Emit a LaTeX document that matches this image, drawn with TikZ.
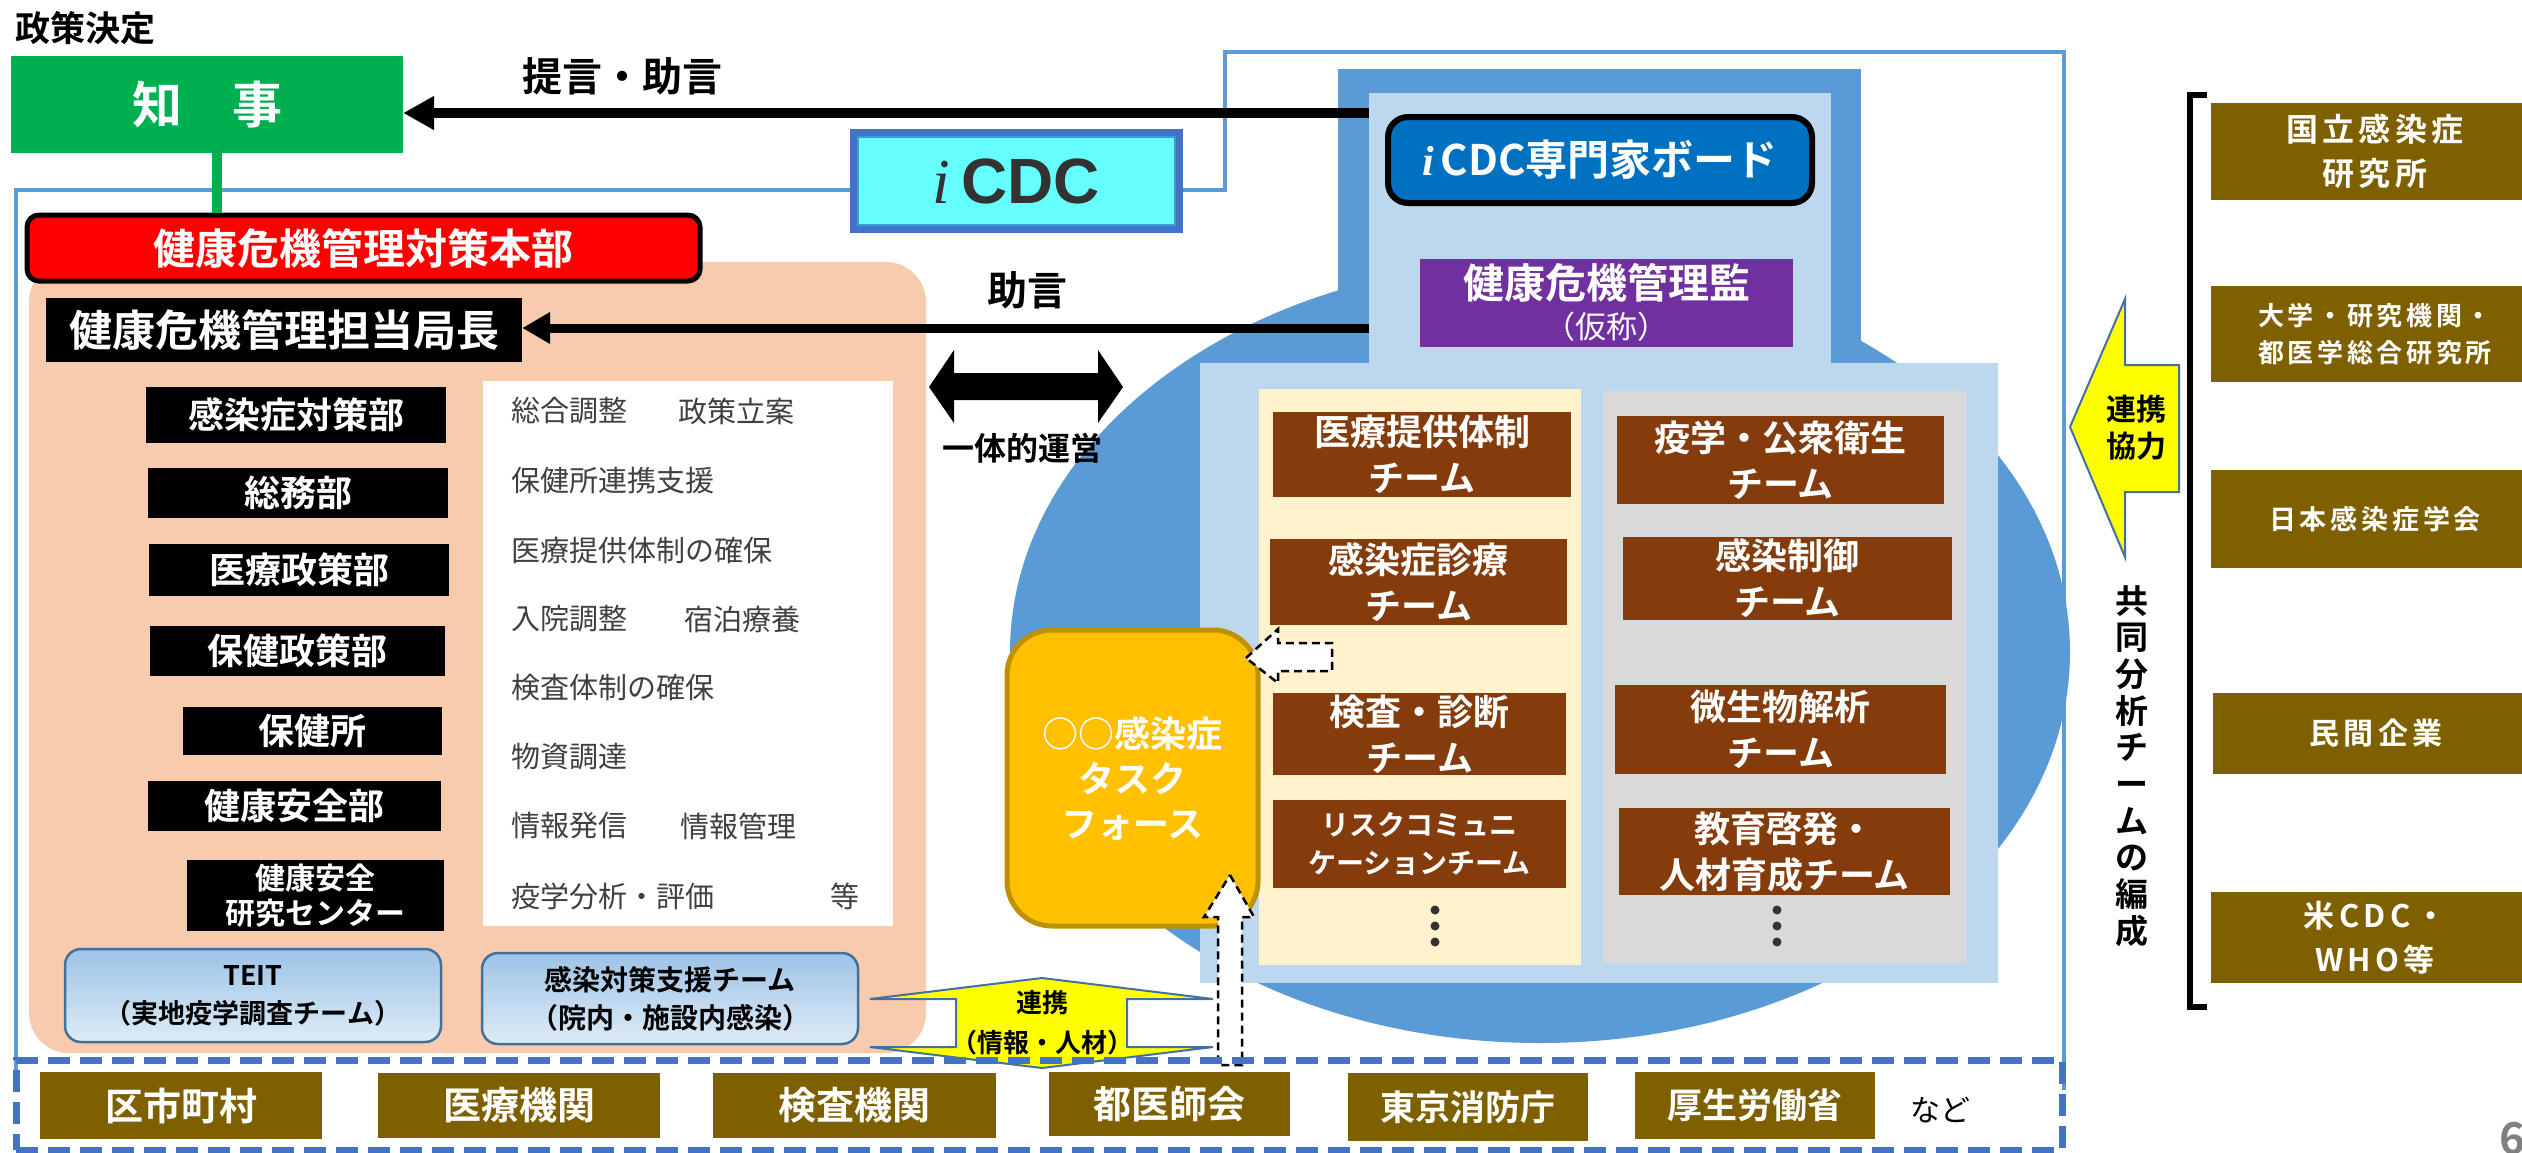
\documentclass[tikz,border=0pt]{standalone}
\usepackage{fontspec}
\setmainfont{Noto Sans CJK JP}[BoldFont={Noto Sans CJK JP Bold}]
\newfontfamily\serifit{Liberation Serif}
\newfontfamily\arialf{Liberation Sans}
\usetikzlibrary{arrows.meta,calc}
\definecolor{cGreen}{HTML}{00B050}
\definecolor{cRed}{HTML}{FF0000}
\definecolor{cPeach}{HTML}{F8CBAD}
\definecolor{cFrame}{HTML}{5B9BD5}
\definecolor{cDash}{HTML}{4472C4}
\definecolor{cCyan}{HTML}{66FFFF}
\definecolor{cBoard}{HTML}{5B9BD5}
\definecolor{cLight}{HTML}{BDD7EE}
\definecolor{cNavy}{HTML}{0070C0}
\definecolor{cPurple}{HTML}{7030A0}
\definecolor{cCream}{HTML}{FFF2CC}
\definecolor{cGrey}{HTML}{D9D9D9}
\definecolor{cBrown}{HTML}{843C0C}
\definecolor{cOlive}{HTML}{7F6000}
\definecolor{cOrange}{HTML}{FFC000}
\definecolor{cOrangeD}{HTML}{BF9000}
\definecolor{cYellow}{HTML}{FFFF00}
\definecolor{cOutl}{HTML}{41719C}
\definecolor{cTxt}{HTML}{404040}
\definecolor{cTop}{HTML}{9DC3E6}
\definecolor{cBot}{HTML}{DEEBF7}
\definecolor{cInner}{HTML}{3C9BD0}
\definecolor{cIcdcTxt}{HTML}{333333}
\newcommand\fsz[2]{\fontsize{#1}{#2}\selectfont}
\newcommand\wide{\addfontfeatures{LetterSpace=14}}
\begin{document}
\begin{tikzpicture}[x=1pt,y=-1pt,
 every node/.style={inner sep=0pt,align=center},
 blackbox/.style={fill=black,text=white,font=\bfseries\fsz{36}{38}},
 teambox/.style={fill=cBrown,text=white,font=\bfseries\fsz{36}{46}},
 orgbox/.style={fill=cOlive,text=white,font=\bfseries\fsz{38}{40}},
 extbox/.style={fill=cOlive,text=white,font=\bfseries\fsz{31}{44}\wide},
 listtxt/.style={anchor=west,text=cTxt,font=\fsz{29}{32}},
 bluebox/.style={rounded corners=16pt,draw=cOutl,line width=2.5pt,top color=cTop,bottom color=cBot,text=black,font=\bfseries\fsz{27}{38}},
 lbl/.style={text=black,font=\bfseries\fsz{40}{44}},
 bigarrow/.style={line width=10pt,-{Triangle[length=31pt,width=32pt]}},
 dasharrow/.style={fill=white,draw=black,line width=2.5pt,dash pattern=on 8pt off 5pt},
 yarrow/.style={fill=cYellow,draw=cOutl,line width=2pt},
 dotc/.style={fill=black!80}
]
\useasboundingbox (0,0) rectangle (2522,1152);
\fill[white] (0,0) rectangle (2522,1152);

% bottom dashed box (fill only)
\fill[white] (16,1060) rectangle (2062,1150);

% peach area
\fill[cPeach, rounded corners=40pt] (29,262) rectangle (926,1053);

% outer frame
\draw[cFrame, line width=4pt] (16,1090) -- (16,190) -- (1225,190) -- (1225,52) -- (2064,52) -- (2064,1090);

% board background
\fill[cBoard] (1540,652) ellipse [x radius=530, y radius=391];
\fill[cBoard] (1338,69) rectangle (1861,400);
\fill[cLight] (1369,93) rectangle (1831,400);
\fill[cLight] (1200,363) rectangle (1998,983);
\fill[cCream] (1259,389) rectangle (1581,965);
\fill[cGrey] (1603,391) rectangle (1966,963);

% top-left
\node[anchor=west, text=black, font=\bfseries\fsz{35}{36}] (seisaku) at (15,28) {政策決定};
\node[fill=cGreen, text=white, font=\bfseries\fsz{50}{54}, minimum width=392pt, minimum height=97pt] (zhiji) at (207,104.5) {知　事};
\node[lbl] (teigen) at (622,76) {提言・助言};
\node[fill=cRed, draw=black, line width=5pt, rounded corners=12pt, text=white, font=\bfseries\fsz{42}{46}, minimum width=673pt, minimum height=66pt] (honbu) at (363.5,248) {健康危機管理対策本部};
\draw[cGreen, line width=10pt] ([xshift=10pt]zhiji.south) -- ([xshift=10pt]zhiji.south |- honbu.north);
\node[fill=black, text=white, font=\bfseries\fsz{43}{46}, minimum width=476pt, minimum height=64pt] (kyokucho) at (284,330) {健康危機管理担当局長};
\node[lbl] (jogen) at (1027,290) {助言};

% iCDC box
\node[fill=cCyan, draw=cDash, line width=8pt, minimum width=325pt, minimum height=96pt, text=cIcdcTxt, font=\fsz{64}{66}] (icdc) at (1016.5,181) {{\serifit\itshape i}\,{\arialf\bfseries CDC}};
\draw[cInner, line width=2pt] ([shift={(8,8)}]icdc.north west) rectangle ([shift={(-8,-8)}]icdc.south east);

% department boxes
\node[blackbox, minimum width=300pt, minimum height=56pt] (d1) at (296,415) {感染症対策部};
\node[blackbox, minimum width=300pt, minimum height=50pt] (d2) at (298,493) {総務部};
\node[blackbox, minimum width=300pt, minimum height=52pt] (d3) at (299,570) {医療政策部};
\node[blackbox, minimum width=295pt, minimum height=50pt] (d4) at (297.5,651) {保健政策部};
\node[blackbox, minimum width=259pt, minimum height=48pt] (d5) at (312.5,731) {保健所};
\node[blackbox, minimum width=293pt, minimum height=50pt] (d6) at (294.5,806) {健康安全部};
\node[blackbox, minimum width=257pt, minimum height=71pt, font=\bfseries\fsz{30}{35}] (d7) at (315.5,895.5) {健康安全\\研究センター};

% task list
\node[fill=white, minimum width=410pt, minimum height=545pt] (list) at (688,653.5) {};
\node[listtxt] (l1a) at (511,411) {総合調整};
\node[listtxt] (l1b) at (678,411) {政策立案};
\node[listtxt] (l2) at (511,480) {保健所連携支援};
\node[listtxt] (l3) at (511,550) {医療提供体制の確保};
\node[listtxt] (l4a) at (511,619) {入院調整};
\node[listtxt] (l4b) at (684,619) {宿泊療養};
\node[listtxt] (l5) at (511,688) {検査体制の確保};
\node[listtxt] (l6) at (511,757) {物資調達};
\node[listtxt] (l7a) at (511,826) {情報発信};
\node[listtxt] (l7b) at (680,826) {情報管理};
\node[listtxt] (l8a) at (511,896) {疫学分析・評価};
\node[listtxt] (l8b) at (830,896) {等};

% blue rounded boxes
\node[bluebox, minimum width=376pt, minimum height=93pt] (teit) at (253,995.5) {TEIT\\（実地疫学調査チーム）};
\node[bluebox, minimum width=376pt, minimum height=91pt, font=\bfseries\fsz{28}{38}] (kansen) at (670,998.5) {感染対策支援チーム\\（院内・施設内感染）};

% iCDC board
\node[fill=cNavy, draw=black, line width=6pt, rounded corners=20pt, text=white, font=\bfseries\fsz{42}{46}, minimum width=424pt, minimum height=86pt] (board) at (1600,160) {{\serifit\itshape i}\,CDC専門家ボード};
\node[fill=cPurple, minimum width=373pt, minimum height=88pt] (kanrikan) at (1606.5,303) {};
\node[text=white, font=\bfseries\fsz{41}{46}] (kanrikanA) at (1606.5,283) {健康危機管理監};
\node[text=white, font=\fsz{31}{34}] (kanrikanB) at (1606.5,327) {（仮称）};

% teams
\node[teambox, minimum width=298pt, minimum height=85pt] (t1) at (1422,454.5) {医療提供体制\\チーム};
\node[teambox, minimum width=297pt, minimum height=86pt] (t2) at (1418.5,582) {感染症診療\\チーム};
\node[teambox, minimum width=293pt, minimum height=82pt] (t3) at (1419.5,734) {検査・診断\\チーム};
\node[teambox, minimum width=293pt, minimum height=88pt, font=\bfseries\fsz{28}{38}] (t4) at (1419.5,844) {リスクコミュニ\\ケーションチーム};
\node[teambox, minimum width=327pt, minimum height=88pt] (r1) at (1780.5,460) {疫学・公衆衛生\\チーム};
\node[teambox, minimum width=329pt, minimum height=83pt] (r2) at (1787.5,578.5) {感染制御\\チーム};
\node[teambox, minimum width=331pt, minimum height=89pt] (r3) at (1780.5,729.5) {微生物解析\\チーム};
\node[teambox, minimum width=331pt, minimum height=87pt] (r4) at (1784.5,851.5) {教育啓発・\\人材育成チーム};
\foreach \yy in {910,926,942} {
  \fill[dotc] (1435,\yy) circle (4.5);
  \fill[dotc] (1777,\yy) circle (4.5);
}

% task force
\node[fill=cOrange, draw=cOrangeD, line width=5pt, rounded corners=45pt, text=white, font=\bfseries\fsz{36}{45}, minimum width=251pt, minimum height=296pt] (tf) at (1132.5,778) {○○感染症\\タスク\\フォース};

% dashed block arrows
\draw[dasharrow] (1246,658) -- (1278,629) -- (1278,643) -- (1332,643) -- (1332,671) -- (1278,671) -- (1278,683) -- cycle;
\draw[dasharrow] (1230,875) -- (1254,917) -- (1242,917) -- (1242,1065) -- (1218,1065) -- (1218,917) -- (1204,917) -- cycle;

% one-body double arrow
\fill[black] (929,387) -- (954,350) -- (954,373) -- (1098,373) -- (1098,350) -- (1123,387) -- (1098,423) -- (1098,400) -- (954,400) -- (954,423) -- cycle;
\node[text=black, font=\bfseries\fsz{32}{36}] (ittai) at (1022,448) {一体的運営};

% advice arrows
\coordinate (b1) at (1369,113);
\coordinate (b2) at (1369,328);
\draw[bigarrow] (b1) -- (zhiji.east |- b1);
\draw[line width=9pt,-{Triangle[length=28pt,width=30pt]}] (b2) -- (kyokucho.east |- b2);

% right side
\draw[yarrow] (2070,427) -- (2125,299) -- (2125,365) -- (2179,365) -- (2179,492) -- (2125,492) -- (2125,557) -- cycle;
\node[text=black, font=\bfseries\fsz{30}{37}] (renkei2) at (2136,428) {連携\\協力};
\node[text=black, font=\bfseries\fsz{33}{36.7}] (kyodo) at (2132,766) {共\\同\\分\\析\\チ\\ー\\ム\\の\\編\\成};
\draw[black, line width=6pt] (2207,95) -- (2190,95) -- (2190,1007) -- (2207,1007);
\node[extbox, minimum width=328pt, minimum height=97pt, font=\bfseries\fsz{32}{44}\wide] (k1) at (2375,151.5) {国立感染症\\研究所};
\node[extbox, minimum width=328pt, minimum height=96pt, font=\bfseries\fsz{26}{37}\wide] (k2) at (2375,334) {大学・研究機関・\\都医学総合研究所};
\node[extbox, minimum width=328pt, minimum height=98pt, font=\bfseries\fsz{27}{34}\wide] (k3) at (2375,519) {日本感染症学会};
\node[extbox, minimum width=326pt, minimum height=81pt, font=\bfseries\fsz{30}{36}\wide] (k4) at (2376,733.5) {民間企業};
\node[extbox, minimum width=328pt, minimum height=91pt, font=\bfseries\fsz{31}{44}\wide] (k5) at (2375,937.5) {米CDC・\\WHO等};

% linkage arrow (yellow up-down)
\draw[yarrow] (1042,978) -- (1213,999) -- (1127,999) -- (1127,1047) -- (1213,1047) -- (1042,1068) -- (870,1047) -- (956,1047) -- (956,999) -- (870,999) -- cycle;
\node[text=black, font=\bfseries\fsz{26}{40}] (renkei) at (1042,1023) {連携\\（情報・人材）};

% bottom dashed box border
\node[draw=cDash, line width=7pt, dash pattern=on 22pt off 10pt, minimum width=2046pt, minimum height=90pt] (bottom) at (1039,1105) {};
\node[orgbox, minimum width=282pt, minimum height=67pt] (o1) at (181,1105.5) {区市町村};
\node[orgbox, minimum width=282pt, minimum height=65pt] (o2) at (519,1105.5) {医療機関};
\node[orgbox, minimum width=283pt, minimum height=65pt] (o3) at (854.5,1105.5) {検査機関};
\node[orgbox, minimum width=241pt, minimum height=64pt] (o4) at (1169.5,1104) {都医師会};
\node[orgbox, minimum width=240pt, minimum height=68pt, font=\bfseries\fsz{35}{40}] (o5) at (1468,1107) {東京消防庁};
\node[orgbox, minimum width=240pt, minimum height=67pt, font=\bfseries\fsz{35}{40}] (o6) at (1755,1105.5) {厚生労働省};
\node[text=black, font=\fsz{30}{34}] (nado) at (1940,1110) {など};
\node[anchor=north west, text=black!50, font=\bfseries\fsz{44}{44}] (pg) at (2499,1122) {6};
\end{tikzpicture}
\end{document}
